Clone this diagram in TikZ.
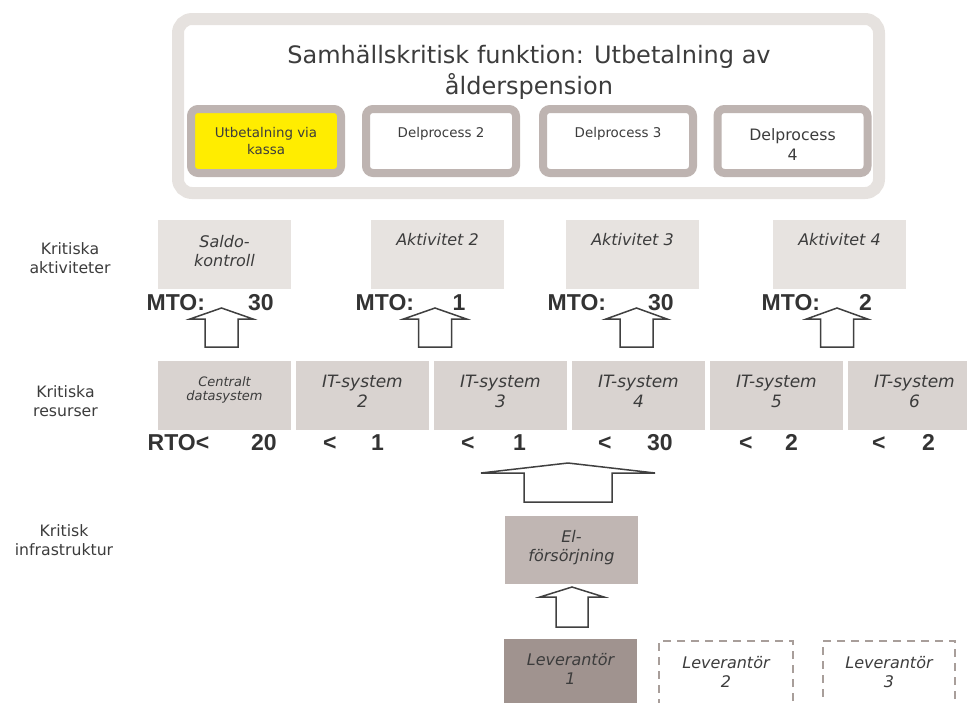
\documentclass[tikz,border=0pt]{standalone}
\usepackage{fontspec}
\setmainfont{DejaVu Sans}
\newfontfamily\arialfont{Liberation Sans}
\usepackage{tikz}
\usetikzlibrary{calc}
\definecolor{ramgra}{RGB}{230,226,223}
\definecolor{procgra}{RGB}{190,180,177}
\definecolor{kassagul}{RGB}{255,237,0}
\definecolor{aktfarg}{RGB}{231,227,224}
\definecolor{resfarg}{RGB}{217,211,208}
\definecolor{elfarg}{RGB}{192,182,179}
\definecolor{levfarg}{RGB}{160,147,143}
\definecolor{streckgra}{RGB}{168,158,154}
\definecolor{textgra}{RGB}{60,60,60}
\definecolor{tidgra}{RGB}{51,51,51}
\definecolor{pilgra}{RGB}{64,64,64}

\tikzset{
	ramstil/.style={draw=ramgra, line width=12pt, rounded corners=14pt, minimum width=701pt, minimum height=174pt, inner sep=0pt},
	rubrik/.style={text=textgra, font=\fontsize{24}{31}\selectfont, align=center, inner sep=0pt},
	procbox/.style={draw=procgra, line width=8pt, rounded corners=7pt, fill=white, minimum width=150pt, minimum height=64pt, inner sep=0pt, text=textgra, align=center, font=\fontsize{13.4}{17}\selectfont},
	aktbox/.style={fill=aktfarg, minimum width=133pt, minimum height=69pt, inner sep=0pt},
	resbox/.style={fill=resfarg, minimum width=133pt, minimum height=69pt, inner sep=0pt},
	elbox/.style={fill=elfarg, minimum width=133pt, minimum height=68pt, inner sep=0pt},
	levbox/.style={minimum width=133pt, minimum height=82pt, inner sep=0pt},
	kursiv/.style={text=textgra, font=\itshape\fontsize{16}{19}\selectfont, align=center, inner sep=0pt},
	sidtext/.style={text=textgra, font=\fontsize{15.7}{19}\selectfont, align=center, inner sep=0pt},
	tidtext/.style={text=tidgra, font=\arialfont\bfseries\fontsize{23}{23}\selectfont, anchor=base west, inner sep=0pt},
	pilstil/.style={draw=pilgra, line width=1.5pt, fill=white, line join=miter}
}

% block arrow: bottom point, shaft half width, head half width, shaft length, total length
\newcommand{\blockpil}[5]{%
	\draw[pilstil] ($(#1)+(-#2,0)$) -- ($(#1)+(-#2,-#4)$) -- ($(#1)+(-#3,-#4)$) -- ($(#1)+(0,-#5)$)
		-- ($(#1)+(#3,-#4)$) -- ($(#1)+(#2,-#4)$) -- ($(#1)+(#2,0)$) -- cycle;}

\begin{document}
\begin{tikzpicture}[x=1pt,y=-1pt]
	\useasboundingbox (0,0) rectangle (967,702);
	\clip (0,0) rectangle (967,702);

	% function with its sub-processes
	\node (ram) at (528.5,106) [ramstil] {};
	\node (rubrik) at (529,72) [rubrik] {Samhällskritisk funktion: Utbetalning av\\ålderspension};
	\node (del1) at (266,141) [procbox, fill=kassagul] {Utbetalning via\\kassa};
	\node (del2) at (441,141) [procbox] {Delprocess 2\\\mbox{}};
	\node (del3) at (618,141) [procbox] {Delprocess 3\\\mbox{}};
	\node (del4) at (792.5,141) [procbox] {};
	\node (del4t) at (792.5,145) [text=textgra, align=center, inner sep=0pt, font=\fontsize{15.7}{20}\selectfont] {Delprocess\\4};

	% row labels
	\node (sid1) at (70,257.8) [sidtext] {Kritiska\\aktiviteter};
	\node (sid2) at (65.5,400.8) [sidtext] {Kritiska\\resurser};
	\node (sid3) at (64,539.8) [sidtext] {Kritisk\\infrastruktur};

	% activities
	\node (akt1) at (224.5,254.5) [aktbox] {};
	\node (akt2) at (437.5,254.5) [aktbox] {};
	\node (akt3) at (632.5,254.5) [aktbox] {};
	\node (akt4) at (839.5,254.5) [aktbox] {};
	\node (akt1t) at ([yshift=-15pt]akt1.north) [kursiv, anchor=north] {Saldo-\\kontroll};
	\node (akt2t) at ([yshift=-13pt]akt2.north) [kursiv, anchor=north] {Aktivitet 2};
	\node (akt3t) at ([yshift=-13pt]akt3.north) [kursiv, anchor=north] {Aktivitet 3};
	\node (akt4t) at ([yshift=-13pt]akt4.north) [kursiv, anchor=north] {Aktivitet 4};

	\node (mto1) at (146.5,310.3) [tidtext] {MTO:};
	\node (mto1v) at (248,310.3) [tidtext] {30};
	\node (mto2) at (355.5,310.3) [tidtext] {MTO:};
	\node (mto2v) at (452.5,310.3) [tidtext] {1};
	\node (mto3) at (547.5,310.3) [tidtext] {MTO:};
	\node (mto3v) at (648,310.3) [tidtext] {30};
	\node (mto4) at (761.5,310.3) [tidtext] {MTO:};
	\node (mto4v) at (859,310.3) [tidtext] {2};

	\coordinate (pil1) at (221.5,347);
	\coordinate (pil2) at (435,347);
	\coordinate (pil3) at (636.5,347);
	\coordinate (pil4) at (837,347);
	\blockpil{pil1}{16.5}{31.5}{28}{39}
	\blockpil{pil2}{16.5}{31.5}{28}{39}
	\blockpil{pil3}{16.5}{30.5}{28}{39}
	\blockpil{pil4}{16.5}{30.5}{28}{39}

	% resources
	\node (res1) at (224.5,395.5) [resbox] {};
	\node (res2) at (362.5,395.5) [resbox] {};
	\node (res3) at (500.5,395.5) [resbox] {};
	\node (res4) at (638.5,395.5) [resbox] {};
	\node (res5) at (776.5,395.5) [resbox] {};
	\node (res6) at (914.5,395.5) [resbox] {};
	\node (res1t) at ([yshift=5.4pt]res1.center) [kursiv, font=\itshape\fontsize{13}{14.5}\selectfont] {Centralt\\datasystem};
	\node (res2t) at ([yshift=4.3pt]res2.center) [kursiv, font=\itshape\fontsize{17}{20}\selectfont] {IT-system\\2};
	\node (res3t) at ([yshift=4.3pt]res3.center) [kursiv, font=\itshape\fontsize{17}{20}\selectfont] {IT-system\\3};
	\node (res4t) at ([yshift=4.3pt]res4.center) [kursiv, font=\itshape\fontsize{17}{20}\selectfont] {IT-system\\4};
	\node (res5t) at ([yshift=4.3pt]res5.center) [kursiv, font=\itshape\fontsize{17}{20}\selectfont] {IT-system\\5};
	\node (res6t) at ([yshift=4.3pt]res6.center) [kursiv, font=\itshape\fontsize{17}{20}\selectfont] {IT-system\\6};

	\node (rto1) at (147.5,450.3) [tidtext] {RTO<};
	\node (rto1v) at (251,450.3) [tidtext] {20};
	\node (rto2) at (323,450.3) [tidtext] {<};
	\node (rto2v) at (371,450.3) [tidtext] {1};
	\node (rto3) at (461,450.3) [tidtext] {<};
	\node (rto3v) at (513,450.3) [tidtext] {1};
	\node (rto4) at (598,450.3) [tidtext] {<};
	\node (rto4v) at (647,450.3) [tidtext] {30};
	\node (rto5) at (739,450.3) [tidtext] {<};
	\node (rto5v) at (785,450.3) [tidtext] {2};
	\node (rto6) at (872,450.3) [tidtext] {<};
	\node (rto6v) at (922,450.3) [tidtext] {2};

	% infrastructure
	\coordinate (pil5) at (568,502);
	\blockpil{pil5}{44}{87}{29}{39}
	\node (el) at (571.5,550) [elbox] {};
	\node (elt) at (571.5,548) [kursiv] {El-\\försörjning};
	\coordinate (pil6) at (572,627);
	\blockpil{pil6}{16}{32}{30}{40}

	% suppliers
	\node (lev1) at (570.5,680) [levbox, fill=levfarg] {};
	\node (lev2) at (726,681) [levbox, minimum width=134pt, minimum height=80pt, draw=streckgra, line width=1.6pt, dash pattern=on 8pt off 6pt] {};
	\node (lev3) at (889,681) [levbox, minimum width=132pt, minimum height=80pt, draw=streckgra, line width=1.6pt, dash pattern=on 8pt off 6pt] {};
	\node (lev1t) at (570.5,668.7) [kursiv] {Leverantör\\1};
	\node (lev2t) at (726,671.7) [kursiv] {Leverantör\\2};
	\node (lev3t) at (889,671.7) [kursiv] {Leverantör\\3};
\end{tikzpicture}
\end{document}
